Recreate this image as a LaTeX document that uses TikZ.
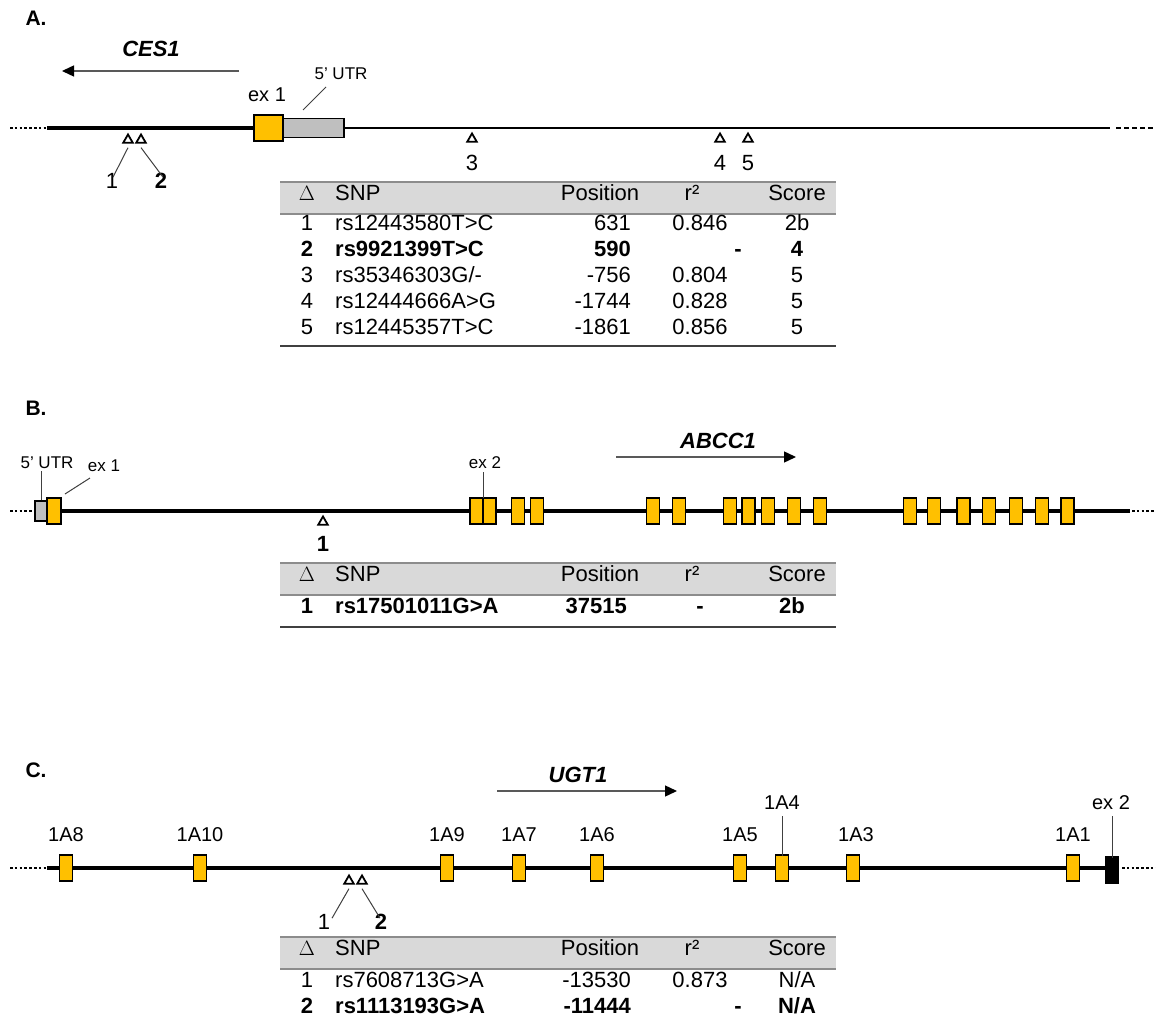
\documentclass[tikz,border=0pt]{standalone}
\usepackage{fontspec}
\setmainfont{Liberation Sans}
\usetikzlibrary{arrows.meta,shapes.geometric}
\definecolor{exonyellow}{HTML}{FFC000}
\definecolor{utrgray}{HTML}{BFBFBF}
\definecolor{headgray}{HTML}{D9D9D9}
\definecolor{rulegray}{HTML}{8C8C8C}
\definecolor{arrowgray}{HTML}{595959}
\definecolor{leadgray}{HTML}{404040}

\begin{document}
\begin{tikzpicture}[x=1pt,y=-1pt,
  exon/.style={draw=black,line width=1.5pt,fill=exonyellow,minimum width=13pt,minimum height=26pt,inner sep=0pt},
  utrbox/.style={draw=black,line width=1.5pt,fill=utrgray,inner sep=0pt},
  exontwo/.style={draw=black,line width=1.5pt,fill=black,minimum width=12pt,minimum height=27pt,inner sep=0pt},
  backbone/.style={line width=3.2pt,black},
  thinbone/.style={line width=2.3pt,black},
  dotline/.style={line width=2.8pt,black,dash pattern=on 2.6pt off 2.2pt},
  dashline/.style={line width=2.4pt,black,dash pattern=on 5pt off 3pt},
  snp/.style={regular polygon,regular polygon sides=3,draw=black,line width=1.8pt,minimum size=11pt,inner sep=0pt},
  lead/.style={line width=1pt,leadgray},
  dirarrow/.style={line width=1.4pt,arrowgray,-{Triangle[length=12pt,width=11pt,color=black]}},
  panel/.style={font=\fontsize{21}{25}\selectfont\bfseries,anchor=west},
  genename/.style={font=\fontsize{22}{26}\selectfont\bfseries\itshape},
  lbl/.style={font=\fontsize{20}{24}\selectfont,inner sep=0pt},
  smalllbl/.style={font=\fontsize{17}{20}\selectfont,inner sep=0pt},
  snplbl/.style={font=\fontsize{22}{26}\selectfont,inner sep=0pt},
  snpbold/.style={font=\fontsize{22}{26}\selectfont\bfseries,inner sep=0pt},
  tx/.style={font=\fontsize{22}{26}\selectfont,inner sep=0pt},
  tc/.style={tx,anchor=mid},
  tw/.style={tx,anchor=mid west},
  te/.style={tx,anchor=mid east},
  bf/.style={font=\fontsize{22}{26}\selectfont\bfseries},
  headband/.style={fill=headgray},
  toprule/.style={rulegray,line width=1.5pt},
  midrule/.style={rulegray,line width=2.2pt},
  botrule/.style={black!75,line width=1.3pt}
]
\useasboundingbox (0,0) rectangle (1156,1032);

% ---------------- A: CES1 ----------------
\node[panel] (pA) at (22,18) {A.};
\node[genename] (nCES) at (151,49) {CES1};
\coordinate (cesS) at (239,71);
\coordinate (cesE) at (62,71);
\draw[dirarrow] (cesS) -- (cesE);

\draw[dotline] (10,128) -- (47,128);
\draw[backbone] (47,128) -- (255,128);
\draw[thinbone] (340,128) -- (1110,128);
\draw[dashline] (1116,128) -- (1156,128);
\node[exon,minimum width=29pt,minimum height=26pt] (aEx1) at (268.5,128) {};
\node[utrbox,minimum width=61pt,minimum height=19pt] (aUTR) at (313.5,128) {};
\node[lbl] (aEx1L) at (267,95) {ex 1};
\node[smalllbl] (aUTRL) at (341,74) {5' UTR};
\coordinate (aUTRa) at (303,110);
\coordinate (aUTRb) at (326,87);
\draw[lead] (aUTRa) -- (aUTRb);

\node[snp] (aS1) at (128,140) {};
\node[snp] (aS2) at (141,140) {};
\node[snp] (aS3) at (472,139) {};
\node[snp] (aS4) at (720,139) {};
\node[snp] (aS5) at (748,139) {};
\node[snplbl] (aL1) at (112,181) {1};
\node[snpbold] (aL2) at (161,181) {2};
\node[snplbl] (aL3) at (472,163) {3};
\node[snplbl] (aL4) at (720,163) {4};
\node[snplbl] (aL5) at (748,163) {5};
\draw[lead] ([yshift=-4pt]aS1.south) -- ([xshift=1pt,yshift=-4pt]aL1.north);
\draw[lead] ([yshift=-4pt]aS2.south) -- ([xshift=2pt,yshift=-4pt]aL2.north);

% table A
\fill[headband] (280,182) rectangle (836,214);
\draw[toprule] (280,182) -- (836,182);
\draw[midrule] (280,214) -- (836,214);
\draw[botrule] (280,346) -- (836,346);
\node[tc] (aH1) at (307,198) {$\Delta$};
\node[tw] (aH2) at (335,198) {SNP};
\node[tc] (aH3) at (600,198) {Position};
\node[tc] (aH4) at (692,198) {r²};
\node[tc] (aH5) at (797,198) {Score};

\node[tc] (aR1a) at (307,228) {1};
\node[tw] (aR1b) at (335,228) {rs12443580T>C};
\node[te] (aR1c) at (631,228) {631};
\node[tc] (aR1d) at (700,228) {0.846};
\node[tc] (aR1e) at (797,228) {2b};

\node[tc,bf] (aR2a) at (307,254) {2};
\node[tw,bf] (aR2b) at (335,254) {rs9921399T>C};
\node[te,bf] (aR2c) at (631,254) {590};
\node[tc,bf] (aR2d) at (738,254) {-};
\node[tc,bf] (aR2e) at (797,254) {4};

\node[tc] (aR3a) at (307,280) {3};
\node[tw] (aR3b) at (335,280) {rs35346303G/-};
\node[te] (aR3c) at (631,280) {-756};
\node[tc] (aR3d) at (700,280) {0.804};
\node[tc] (aR3e) at (797,280) {5};

\node[tc] (aR4a) at (307,306) {4};
\node[tw] (aR4b) at (335,306) {rs12444666A>G};
\node[te] (aR4c) at (631,306) {-1744};
\node[tc] (aR4d) at (700,306) {0.828};
\node[tc] (aR4e) at (797,306) {5};

\node[tc] (aR5a) at (307,332) {5};
\node[tw] (aR5b) at (335,332) {rs12445357T>C};
\node[te] (aR5c) at (631,332) {-1861};
\node[tc] (aR5d) at (700,332) {0.856};
\node[tc] (aR5e) at (797,332) {5};

% ---------------- B: ABCC1 ----------------
\node[panel] (pB) at (22,408) {B.};
\node[genename] (nABCC) at (718,441) {ABCC1};
\coordinate (abS) at (616,457);
\coordinate (abE) at (796,457);
\draw[dirarrow] (abS) -- (abE);

\draw[dotline] (10,511) -- (35,511);
\draw[backbone] (35,511) -- (1130,511);
\draw[dotline] (1132,511) -- (1156,511);
\node[utrbox,minimum width=12pt,minimum height=20pt] (bUTR) at (41,511) {};
\node[exon,minimum width=14pt] (bEx1) at (54,511) {};
\foreach \i/\x in {2/476.5,3/489.5,4/518,5/537,6/653,7/679,8/730,9/748.5,10/768,11/794,12/820,13/910,14/934,15/963.5,16/989,17/1016,18/1042,19/1067.5}
  \node[exon] (bEx\i) at (\x,511) {};
\node[smalllbl] (bUTRL) at (47,463) {5' UTR};
\node[smalllbl] (bEx1L) at (104,466) {ex 1};
\node[smalllbl] (bEx2L) at (485,463) {ex 2};
\draw[lead] (bUTR.north) -- ([yshift=-2pt]bUTRL.south -| bUTR.north);
\coordinate (bEx1a) at (65,494);
\coordinate (bEx1b) at (90,478);
\draw[lead] (bEx1a) -- (bEx1b);
\draw[lead] ([yshift=-1pt]bEx2.north east) -- ([yshift=-3pt]bEx2L.south -| bEx2.east);

\node[snp] (bS1) at (323,522) {};
\node[snpbold] (bL1) at (323,544) {1};

% table B
\fill[headband] (280,563) rectangle (836,595);
\draw[toprule] (280,563) -- (836,563);
\draw[midrule] (280,595) -- (836,595);
\draw[botrule] (280,627) -- (836,627);
\node[tc] (bH1) at (307,579) {$\Delta$};
\node[tw] (bH2) at (335,579) {SNP};
\node[tc] (bH3) at (600,579) {Position};
\node[tc] (bH4) at (692,579) {r²};
\node[tc] (bH5) at (797,579) {Score};
\node[tc,bf] (bR1a) at (307,611) {1};
\node[tw,bf] (bR1b) at (335,611) {rs17501011G>A};
\node[te,bf] (bR1c) at (627,611) {37515};
\node[tc,bf] (bR1d) at (700,611) {-};
\node[tc,bf] (bR1e) at (792,611) {2b};

% ---------------- C: UGT1 ----------------
\node[panel] (pC) at (22,770) {C.};
\node[genename] (nUGT) at (578,775) {UGT1};
\coordinate (ugS) at (497,791);
\coordinate (ugE) at (677,791);
\draw[dirarrow] (ugS) -- (ugE);

\draw[dotline] (10,868) -- (47,868);
\draw[backbone] (47,868) -- (1108,868);
\draw[dotline] (1122,868) -- (1156,868);
\foreach \n/\x in {A8/66,A10/200,A9/447,A7/519,A6/597,A5/740,A4/782,A3/853,A1/1073}
  \node[exon] (c\n) at (\x,868) {};
\node[exontwo] (cEx2) at (1112,870) {};

\node[lbl] (cA8L) at (66,835) {1A8};
\node[lbl] (cA10L) at (200,835) {1A10};
\node[lbl] (cA9L) at (447,835) {1A9};
\node[lbl] (cA7L) at (519,835) {1A7};
\node[lbl] (cA6L) at (597,835) {1A6};
\node[lbl] (cA5L) at (740,835) {1A5};
\node[lbl] (cA4L) at (782,803) {1A4};
\node[lbl] (cA3L) at (856,835) {1A3};
\node[lbl] (cA1L) at (1073,835) {1A1};
\node[lbl] (cEx2L) at (1111,803) {ex 2};
\draw[lead] ([yshift=-2pt]cA4.north) -- ([yshift=-6pt]cA4L.south);
\draw[lead] ([yshift=-2pt]cEx2.north) -- ([yshift=-6pt]cEx2L.south -| cEx2.north);

\node[snp] (cS1) at (349,881) {};
\node[snp] (cS2) at (362,881) {};
\node[snplbl] (cL1) at (324,922) {1};
\node[snpbold] (cL2) at (381,922) {2};
\draw[lead] ([yshift=-4pt]cS1.south) -- ([xshift=8pt,yshift=-4pt]cL1.north);
\draw[lead] ([yshift=-4pt]cS2.south) -- ([xshift=-1pt,yshift=-4pt]cL2.north);

% table C
\fill[headband] (280,937) rectangle (836,969);
\draw[toprule] (280,937) -- (836,937);
\draw[midrule] (280,969) -- (836,969);
\node[tc] (cH1) at (307,953) {$\Delta$};
\node[tw] (cH2) at (335,953) {SNP};
\node[tc] (cH3) at (600,953) {Position};
\node[tc] (cH4) at (692,953) {r²};
\node[tc] (cH5) at (797,953) {Score};
\node[tc] (cR1a) at (307,985) {1};
\node[tw] (cR1b) at (335,985) {rs7608713G>A};
\node[te] (cR1c) at (631,985) {-13530};
\node[tc] (cR1d) at (700,985) {0.873};
\node[tc] (cR1e) at (797,985) {N/A};
\node[tc,bf] (cR2a) at (307,1011) {2};
\node[tw,bf] (cR2b) at (335,1011) {rs1113193G>A};
\node[te,bf] (cR2c) at (631,1011) {-11444};
\node[tc,bf] (cR2d) at (738,1011) {-};
\node[tc,bf] (cR2e) at (797,1011) {N/A};
\end{tikzpicture}
\end{document}
